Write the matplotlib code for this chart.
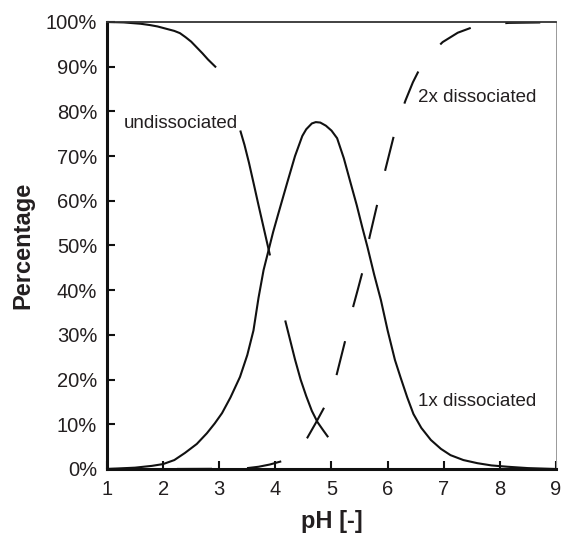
import numpy as np
import matplotlib
matplotlib.use("Agg")
import matplotlib.pyplot as plt

plt.rcParams["font.family"] = ["Liberation Sans", "DejaVu Sans"]
plt.rcParams["lines.scale_dashes"] = False

# undissociated (gaps where the label sits and near 40-48 %)
ph_undiss = [1.0, 1.3, 1.6, 1.77, 1.9, 2.05, 2.2, 2.3, 2.4, 2.5, 2.6, 2.7, 2.8, 2.93, np.nan,
             3.38, 3.45, 3.53, 3.62, 3.7, 3.8, 3.9, np.nan,
             4.18, 4.25, 4.35, 4.45, 4.55, 4.65, 4.75, 4.85, 4.93]
pct_undiss = [100, 99.9, 99.6, 99.3, 99.0, 98.5, 98.0, 97.5, 96.6, 95.6, 94.3, 93.0, 91.6, 90.0, np.nan,
              75.5, 72.5, 68.5, 63.5, 59, 53.5, 48, np.nan,
              33, 29.5, 24.5, 20, 16.3, 13, 10.5, 8.7, 7.3]

# 1x dissociated
ph_one = [1.0, 1.5, 1.8, 2.0, 2.2, 2.39, 2.6, 2.78, 2.92, 3.05, 3.2, 3.37, 3.5,
          3.61, 3.7, 3.79, 3.88, 3.96, 4.05, 4.13, 4.21, 4.35, 4.48, 4.55, 4.65,
          4.72, 4.8, 4.9, 5.0, 5.1, 5.22, 5.34, 5.45, 5.55, 5.64, 5.76, 5.88,
          6.0, 6.13, 6.23, 6.35, 6.46, 6.6, 6.77, 6.95, 7.12, 7.35, 7.6, 7.85,
          8.14, 8.5, 9.0]
pct_one = [0, 0.3, 0.7, 1.1, 2.0, 3.6, 5.6, 8, 10.2, 12.5, 16, 20.6, 25.5,
           31, 38.3, 44.5, 49, 53, 57, 60.5, 64, 70, 74.5, 76, 77.3,
           77.6, 77.5, 76.8, 75.7, 74, 69.5, 64, 59, 54, 49.7, 43.5, 37.8,
           31, 24.4, 20.5, 16, 12.3, 9.2, 6.5, 4.5, 3.1, 2.0, 1.3, 0.8,
           0.5, 0.2, 0]

# 2x dissociated
ph_two = [1, 2, 3, 3.5, 3.7, 3.9, 4.13, 4.3, 4.45, 4.57, 4.72, 4.88, 5.0, 5.09,
          5.17, 5.25, 5.39, 5.47, 5.55, 5.68, 5.82, 5.96, 6.12, 6.22, 6.32, 6.45,
          6.57, 6.78, 6.98, 7.25, 7.55, 7.85, 8.16, 8.79, 9]
pct_two = [0, 0, 0.05, 0.2, 0.5, 1.0, 1.8, 3.2, 5, 7, 10.3, 14, 17.8, 21,
           25, 29, 36.5, 40.2, 44, 52, 59.5, 67, 75, 79, 82.5, 86.5,
           89.5, 93, 95.5, 97.6, 99, 99.5, 99.8, 99.9, 100]

labels = [("undissociated", 1.3, 77.2), ("2x dissociated", 6.54, 83.2),
          ("1x dissociated", 6.55, 15.0)]

txt = "#231f20"

fig = plt.figure(figsize=(5.63, 5.36), dpi=100)
ax = fig.add_axes([0.190, 0.125, 0.7976, 0.834])

ax.plot(ph_undiss, pct_undiss, color="#111111", lw=1.5)
ax.plot(ph_one, pct_one, color="#111111", lw=1.5)
ax.plot(ph_two, pct_two, color="#111111", lw=1.5, linestyle=(0.0, (25.2, 25.2)))

for text, x, y in labels:
    ax.text(x, y, text, fontsize=13.5, color=txt, va="center", ha="left")

ax.set_xlim(1, 9)
ax.set_ylim(0, 100)
ax.set_xticks(range(1, 10))
ax.set_yticks(range(0, 101, 10))
ax.set_yticklabels([f"{v}%" for v in range(0, 101, 10)])
ax.tick_params(direction="in", length=6, width=1.5, labelsize=14.5,
               labelcolor=txt, color="#111111")
ax.tick_params(axis="x", pad=8)
ax.tick_params(axis="y", pad=7)

for side in ("left", "bottom"):
    ax.spines[side].set_linewidth(2.2)
    ax.spines[side].set_color("#111111")
ax.spines["top"].set_linewidth(1.3)
ax.spines["top"].set_color("#333333")
ax.spines["right"].set_linewidth(0.7)
ax.spines["right"].set_color("#999999")

ax.set_ylabel("Percentage", fontsize=17, fontweight="bold", color=txt, labelpad=8)
ax.set_xlabel("pH [-]", fontsize=17, fontweight="bold", color=txt, labelpad=8)

fig.savefig("out.png", dpi=100)
